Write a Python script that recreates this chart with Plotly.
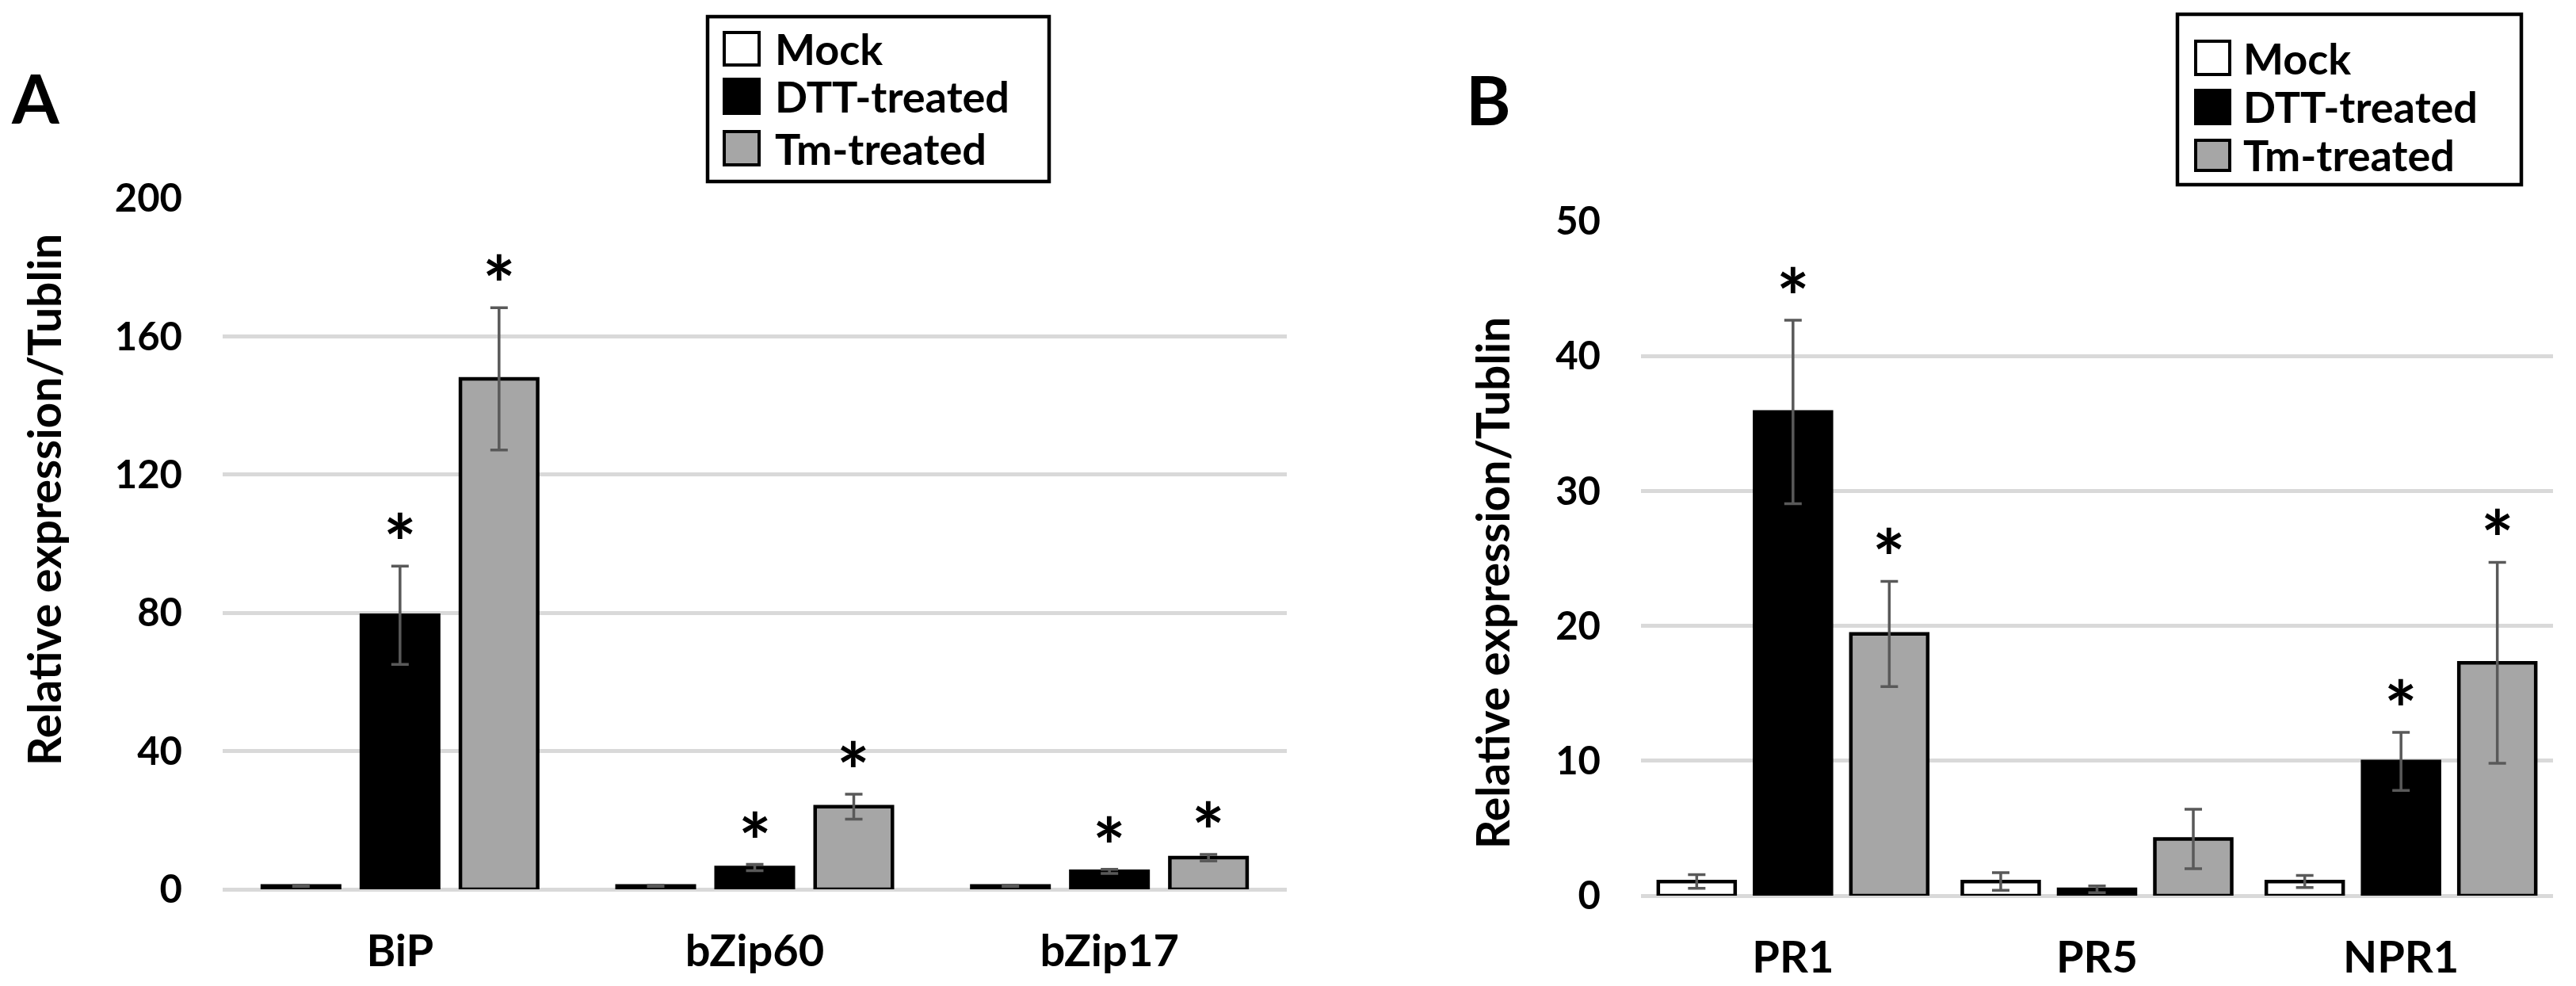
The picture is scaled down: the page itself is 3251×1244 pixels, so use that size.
import plotly.graph_objects as go

# ---------------- data ----------------
series_names = ["Mock", "DTT-treated", "Tm-treated"]
series_colors = ["#ffffff", "#000000", "#a6a6a6"]

cats_A = ["BiP", "bZip60", "bZip17"]
mock_A = [1.0, 1.0, 1.0]
mock_A_err = [0.2, 0.2, 0.2]
dtt_A = [79.3, 6.3, 5.2]
dtt_A_err = [14.2, 0.9, 0.6]
tm_A = [147.7, 23.9, 9.15]
tm_A_err = [20.6, 3.6, 0.95]
sig_A_mock = [False, False, False]
sig_A_dtt = [True, True, True]
sig_A_tm = [True, True, True]
yticks_A = [0, 40, 80, 120, 160, 200]

cats_B = ["PR1", "PR5", "NPR1"]
mock_B = [1.05, 1.05, 1.05]
mock_B_err = [0.5, 0.65, 0.45]
dtt_B = [35.85, 0.47, 9.95]
dtt_B_err = [6.8, 0.25, 2.15]
tm_B = [19.4, 4.2, 17.26]
tm_B_err = [3.9, 2.2, 7.45]
sig_B_mock = [False, False, False]
sig_B_dtt = [True, False, True]
sig_B_tm = [True, False, True]
yticks_B = [0, 10, 20, 30, 40, 50]

ytitle = "Relative expression/Tublin"

# ---------------- layout helpers ----------------
W, H = 3251, 1244
FONT = "Lato"


def px(xp):
    return xp / W


def py(yp):
    return 1 - yp / H


fig = go.Figure()

panels = [
    dict(cats=cats_A, vals=[mock_A, dtt_A, tm_A], errs=[mock_A_err, dtt_A_err, tm_A_err],
         sig=[sig_A_mock, sig_A_dtt, sig_A_tm], xa="x", ya="y",
         barw=0.2178, pitch=0.2792),
    dict(cats=cats_B, vals=[mock_B, dtt_B, tm_B], errs=[mock_B_err, dtt_B_err, tm_B_err],
         sig=[sig_B_mock, sig_B_dtt, sig_B_tm], xa="x2", ya="y2",
         barw=0.2528, pitch=0.3167),
]

annotations = []
for p in panels:
    for k, name in enumerate(series_names):
        off = (k - 1) * p["pitch"]
        fig.add_trace(go.Bar(
            x=p["cats"], y=p["vals"][k], name=name,
            width=p["barw"], offset=off - p["barw"] / 2,
            marker=dict(color=series_colors[k], line=dict(color="#000000", width=4.5)),
            error_y=dict(type="data", array=p["errs"][k], visible=True,
                         color="#595959", thickness=3.5, width=11),
            xaxis=p["xa"], yaxis=p["ya"], showlegend=False,
        ))
        for i, s in enumerate(p["sig"][k]):
            if s:
                annotations.append(dict(
                    x=i + off, y=p["vals"][k][i] + p["errs"][k][i],
                    xref=p["xa"], yref=p["ya"], text="*", showarrow=False,
                    xanchor="center", yanchor="bottom", yshift=-29, borderpad=0,
                    font=dict(family=FONT, size=98, color="#000000", weight="bold"),
                ))

# y-axis titles
annotations.append(dict(x=px(55), y=py(631), xref="paper", yref="paper", text=ytitle,
                        textangle=-90, showarrow=False, xanchor="center", yanchor="middle",
                        font=dict(family=FONT, size=57, color="#000000", weight="bold")))
annotations.append(dict(x=px(1883), y=py(736), xref="paper", yref="paper", text=ytitle,
                        textangle=-90, showarrow=False, xanchor="center", yanchor="middle",
                        font=dict(family=FONT, size=57, color="#000000", weight="bold")))
# panel letters
annotations.append(dict(x=px(45), y=py(123), xref="paper", yref="paper", text="A",
                        showarrow=False, xanchor="center", yanchor="middle",
                        font=dict(family=FONT, size=86, color="#000000", weight="bold")))
annotations.append(dict(x=px(1878), y=py(124), xref="paper", yref="paper", text="B",
                        showarrow=False, xanchor="center", yanchor="middle",
                        font=dict(family=FONT, size=86, color="#000000", weight="bold")))

# custom legends (box, swatches, labels)
shapes = []
legends = [
    dict(box=(893, 21, 1324, 229), sx=(914, 958), rows=[(41, 82), (100, 143), (166, 208)], tx=977),
    dict(box=(2748, 18, 3182, 233), sx=(2771, 2814), rows=[(52, 94), (114, 156), (177, 215)], tx=2830),
]
for lg in legends:
    x0, y0, x1, y1 = lg["box"]
    shapes.append(dict(type="rect", xref="paper", yref="paper", x0=px(x0), x1=px(x1),
                       y0=py(y1), y1=py(y0), line=dict(color="#000000", width=4.5),
                       fillcolor="rgba(0,0,0,0)"))
    for k, name in enumerate(series_names):
        r0, r1 = lg["rows"][k]
        shapes.append(dict(type="rect", xref="paper", yref="paper",
                           x0=px(lg["sx"][0]), x1=px(lg["sx"][1]), y0=py(r1), y1=py(r0),
                           line=dict(color="#000000", width=4), fillcolor=series_colors[k]))
        annotations.append(dict(x=px(lg["tx"]), y=py((r0 + r1) / 2), xref="paper", yref="paper",
                                text=name, showarrow=False, xanchor="left", yanchor="middle",
                                borderpad=0,
                                font=dict(family=FONT, size=54, color="#000000", weight="bold")))

xcommon = dict(type="category", range=[-0.5, 2.5], showgrid=False, showline=False, zeroline=False,
               ticks="", ticklabelstandoff=40, fixedrange=True, automargin=False,
               tickfont=dict(family=FONT, size=56, color="#000000", weight="bold"))
ycommon = dict(showgrid=True, gridcolor="#d9d9d9", gridwidth=5, zeroline=True,
               zerolinecolor="#d9d9d9", zerolinewidth=5, showline=False, ticks="",
               ticklabelstandoff=50, fixedrange=True, automargin=False,
               tickfont=dict(family=FONT, size=49, color="#000000", weight="bold"))

fig.update_layout(
    template="none",
    width=W, height=H, autosize=False,
    margin=dict(l=0, r=0, t=0, b=0, pad=0, autoexpand=False),
    paper_bgcolor="white", plot_bgcolor="white",
    barmode="overlay", showlegend=False,
    xaxis=dict(xcommon, domain=[px(281), px(1624)], anchor="y",
               categoryorder="array", categoryarray=cats_A),
    yaxis=dict(ycommon, domain=[py(1122), py(250)], anchor="x", range=[0, 200], tickvals=yticks_A),
    xaxis2=dict(xcommon, domain=[px(2071), px(3222)], anchor="y2",
                categoryorder="array", categoryarray=cats_B),
    yaxis2=dict(ycommon, domain=[py(1130), py(279)], anchor="x2", range=[0, 50], tickvals=yticks_B),
    annotations=annotations, shapes=shapes,
)

fig.write_html("out.html", config={"displayModeBar": False, "staticPlot": True},
               post_script="document.body.style.margin='0px';document.body.style.overflow='hidden';")
